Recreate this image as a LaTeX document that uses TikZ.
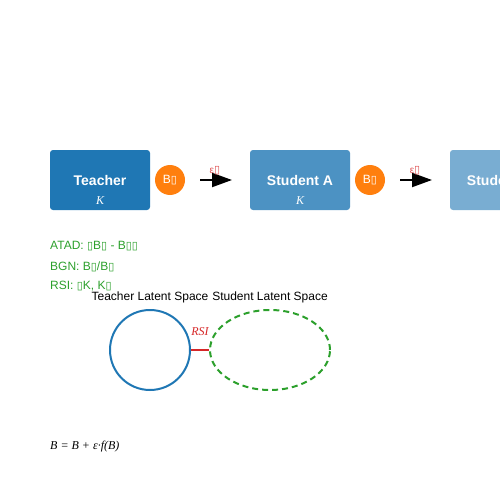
\documentclass[tikz,border=0pt]{standalone}
\usepackage{fontspec}
\setmainfont{Liberation Sans}
\newfontfamily\serifit{Liberation Serif}
\newfontfamily\tofufont{DejaVu Sans}
\usetikzlibrary{arrows.meta,shapes.geometric}
\definecolor{tblue}{HTML}{1F77B4}
\definecolor{torange}{HTML}{FF7F0E}
\definecolor{tgreen}{HTML}{2CA02C}
\definecolor{tred}{HTML}{D62728}
\newcommand{\tofubox}{{\tofufont\fontsize{11}{12}\selectfont\char"25AF}}
\tikzset{
  agentbox/.style={rectangle, rounded corners=3pt, minimum width=100pt, minimum height=60pt, inner sep=0pt, text=white, font=\bfseries\fontsize{14}{16}\selectfont},
  klabel/.style={text=white, inner sep=0pt, font=\serifit\itshape\fontsize{12}{14}\selectfont},
  behav/.style={circle, fill=torange, minimum size=30pt, inner sep=0pt, text=white, font=\fontsize{12}{14}\selectfont},
  flow/.style={line width=2pt, -{Triangle[length=20pt,width=14pt]}},
  flowlabel/.style={text=tred!80, inner sep=0pt, font=\fontsize{10}{12}\selectfont},
  metric/.style={anchor=west, inner sep=0pt, text=tgreen, font=\fontsize{12}{14}\selectfont},
  spacelabel/.style={inner sep=0pt, font=\fontsize{12}{14}\selectfont},
}
\begin{document}
\begin{tikzpicture}[x=1pt,y=-1pt]
\useasboundingbox (0,0) rectangle (500,500);
\clip (0,0) rectangle (500,500);
% agents
\node[agentbox, fill=tblue] (teacher) at (100,180) {Teacher};
\node[klabel] (kt) at (100,201) {K};
\node[behav] (b1) at (170,180) {B\tofubox};
\coordinate (a1s) at (200,180);
\coordinate (a1e) at (232,180);
\draw[flow] (a1s) -- (a1e);
\node[flowlabel] (e1) at (215,171) {ε\tofubox};
\node[agentbox, fill=tblue!80] (studa) at (300,180) {Student A};
\node[klabel] (ka) at (300,201) {K};
\node[behav] (b2) at (370,180) {B\tofubox};
\coordinate (a2s) at (400,180);
\coordinate (a2e) at (432,180);
\draw[flow] (a2s) -- (a2e);
\node[flowlabel] (e2) at (415,171) {ε\tofubox};
\node[agentbox, fill=tblue!60] (studb) at (500,180) {Student B};
% metrics
\node[metric] (atad) at (50,246.5) {ATAD: \tofubox B\tofubox\ - B\tofubox\tofubox};
\node[metric] (bgn) at (50,266.5) {BGN: B\tofubox/B\tofubox};
\node[metric] (rsi) at (50,286.5) {RSI: \tofubox K, K\tofubox};
% latent spaces
\node[spacelabel] (tls) at (150,297.5) {Teacher Latent Space};
\node[spacelabel] (sls) at (270,297.5) {Student Latent Space};
\node[circle, draw=tblue, line width=2pt, minimum size=80pt, inner sep=0pt] (tspace) at (150,350) {};
\node[ellipse, draw=tgreen, line width=2pt, dash pattern=on 6pt off 4pt, minimum width=120pt, minimum height=80pt, inner sep=0pt] (sspace) at (270,350) {};
\draw[tred, line width=2pt] (tspace.east) -- (sspace.west);
\node[text=tred, inner sep=0pt, font=\serifit\itshape\fontsize{12}{14}\selectfont] (rsil) at (200,332) {RSI};
% formula
\node[anchor=west, inner sep=0pt, font=\serifit\itshape\fontsize{12}{14}\selectfont] (formula) at (50,446.5) {B = B + ε·f(B)};
\end{tikzpicture}
\end{document}
